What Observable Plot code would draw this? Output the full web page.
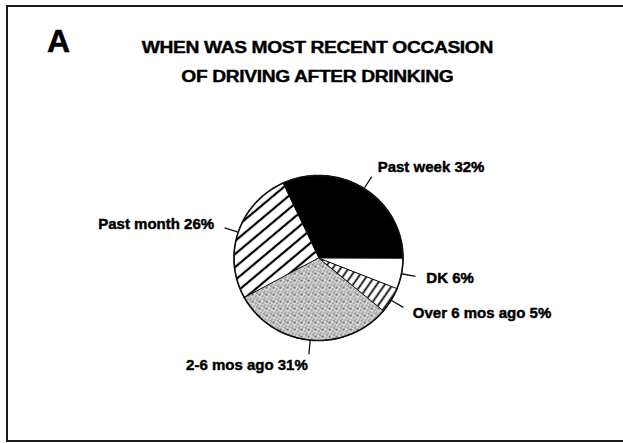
<!DOCTYPE html>
<html><head><meta charset="utf-8">
<script src="https://cdn.jsdelivr.net/npm/d3@7"></script>
<script src="https://cdn.jsdelivr.net/npm/@observablehq/plot@0.6"></script>
<style>
body{margin:0;background:#fff;font-family:"Liberation Sans",Arial,sans-serif;color:#000;}
#wrap{position:relative;width:623px;height:443px;overflow:hidden;background:#fff;}
#frame{position:absolute;left:6px;top:5px;width:700px;height:433px;border:2px solid #1a1a1a;}
#letter{position:absolute;left:47px;top:25px;font-size:32px;font-weight:bold;line-height:32px;-webkit-text-stroke:0.5px #000;}
.tl{position:absolute;left:0;width:634px;text-align:center;font-size:16px;font-weight:bold;line-height:29px;white-space:nowrap;-webkit-text-stroke:0.4px #000;letter-spacing:-0.3px;}
.tl span{display:inline-block;transform:scaleX(1.2);transform-origin:50% 50%;}
#chart{position:absolute;left:0;top:0;}
</style></head><body>
<div id="wrap"><div id="frame"></div><div id="chart"></div><div id="letter"></div><div id="titles"></div></div>
<script>
// ---- data ----
const panelLetter = "A";
const titleLines = ["WHEN WAS MOST RECENT OCCASION", "OF DRIVING AFTER DRINKING"];
const labels = ["Past week", "DK", "Over 6 mos ago", "2-6 mos ago", "Past month"];
const values = [32, 6, 5, 31, 26];

// ---- text ----
document.getElementById("letter").textContent = panelLetter;
const titles = document.getElementById("titles");
titleLines.forEach((t, i) => {
  const d = document.createElement("div");
  d.className = "tl";
  d.style.top = (33 + 29 * i) + "px";
  const s = document.createElement("span");
  s.textContent = t;
  d.appendChild(s);
  titles.appendChild(d);
});

// ---- pie geometry from values ----
const startDeg = -25;
const rad = Math.PI / 180;
const arcs = d3.pie().sort(null).value(d => d.value)
  .startAngle(startDeg * rad).endAngle((startDeg + 360) * rad)(labels.map((label, i) => ({label, value: values[i]})));
arcs.forEach(a => { a.mid = (a.startAngle + a.endAngle) / 2; a.label = a.data.label; a.text = `${a.data.label} ${a.data.value}%`; });

const wedges = arcs.flatMap(a => {
  const pts = [{label: a.label, x: 0, y: 0}];
  const n = Math.max(2, Math.ceil((a.endAngle - a.startAngle) / rad));
  for (let k = 0; k <= n; k++) {
    const t = a.startAngle + (a.endAngle - a.startAngle) * k / n;
    pts.push({label: a.label, x: Math.sin(t), y: Math.cos(t)});
  }
  return pts;
});
const rim = wedges.filter(p => p.x !== 0 || p.y !== 0);

const font = "'Liberation Sans', Arial, sans-serif";
const lead0 = 1.0, lead1 = 1.17, labR = 1.3;
const labelStyle = {fontSize: 15, fontWeight: "bold", fontFamily: font, fill: "#000", stroke: "#000", strokeWidth: 0.45};

const plot = Plot.plot({
  width: 623, height: 443,
  marginLeft: 233.5, marginRight: 220.5, marginTop: 175, marginBottom: 103,
  x: {domain: [-1, 1], axis: null},
  y: {domain: [-1, 1], axis: null},
  color: {type: "ordinal", domain: labels,
          range: ["#000000", "#ffffff", "url(#hatchFine)", "url(#stipple)", "url(#hatchWide)"]},
  style: {background: "transparent", overflow: "visible"},
  marks: [
    Plot.line(wedges, {x: "x", y: "y", z: "label", fill: "label", stroke: "#111", strokeWidth: 1, curve: "linear-closed"}),
    Plot.line(rim, {x: "x", y: "y", z: "label", stroke: "#111", strokeWidth: 1.6}),
    Plot.link(arcs, {
      x1: a => lead0 * Math.sin(a.mid), y1: a => lead0 * Math.cos(a.mid),
      x2: a => lead1 * Math.sin(a.mid), y2: a => lead1 * Math.cos(a.mid),
      stroke: "#111", strokeWidth: 1.3
    }),
    Plot.text(arcs.filter(a => Math.sin(a.mid) >= 0), {
      x: a => labR * Math.sin(a.mid), y: a => labR * Math.cos(a.mid), text: "text",
      textAnchor: "start", ...labelStyle
    }),
    Plot.text(arcs.filter(a => Math.sin(a.mid) < 0), {
      x: a => labR * Math.sin(a.mid), y: a => labR * Math.cos(a.mid), text: "text",
      textAnchor: "end", ...labelStyle
    })
  ]
});

// ---- fill patterns ----
const defs = d3.select(plot).insert("defs", ":first-child");
function hatch(id, size, angle, sw) {
  const p = defs.append("pattern").attr("id", id).attr("patternUnits", "userSpaceOnUse")
    .attr("width", size).attr("height", size).attr("patternTransform", `rotate(${angle})`);
  p.append("rect").attr("width", size).attr("height", size).attr("fill", "#fff");
  p.append("line").attr("x1", size / 2).attr("y1", -1).attr("x2", size / 2).attr("y2", size + 1)
    .attr("stroke", "#000").attr("stroke-width", sw);
}
hatch("hatchWide", 10, 50, 2.2);
hatch("hatchFine", 6.5, 35, 1.7);
const st = defs.append("pattern").attr("id", "stipple").attr("patternUnits", "userSpaceOnUse")
  .attr("width", 7).attr("height", 7);
st.append("rect").attr("width", 7).attr("height", 7).attr("fill", "#cfcfcf");
[[0,0,"#3a3a3a"],[3,1,"#555"],[5,3,"#3a3a3a"],[1,4,"#666"],[4,5,"#444"],[6,0,"#777"],[2,2,"#888"],[0,6,"#666"],[5,6,"#888"],[3,4,"#999"],[6,2,"#eee"],[1,1,"#f2f2f2"],[4,3,"#eee"],[2,6,"#f0f0f0"]]
  .forEach(([x, y, c]) => st.append("rect").attr("x", x).attr("y", y).attr("width", 1).attr("height", 1).attr("fill", c));

document.getElementById("chart").appendChild(plot);
</script>
</body></html>
